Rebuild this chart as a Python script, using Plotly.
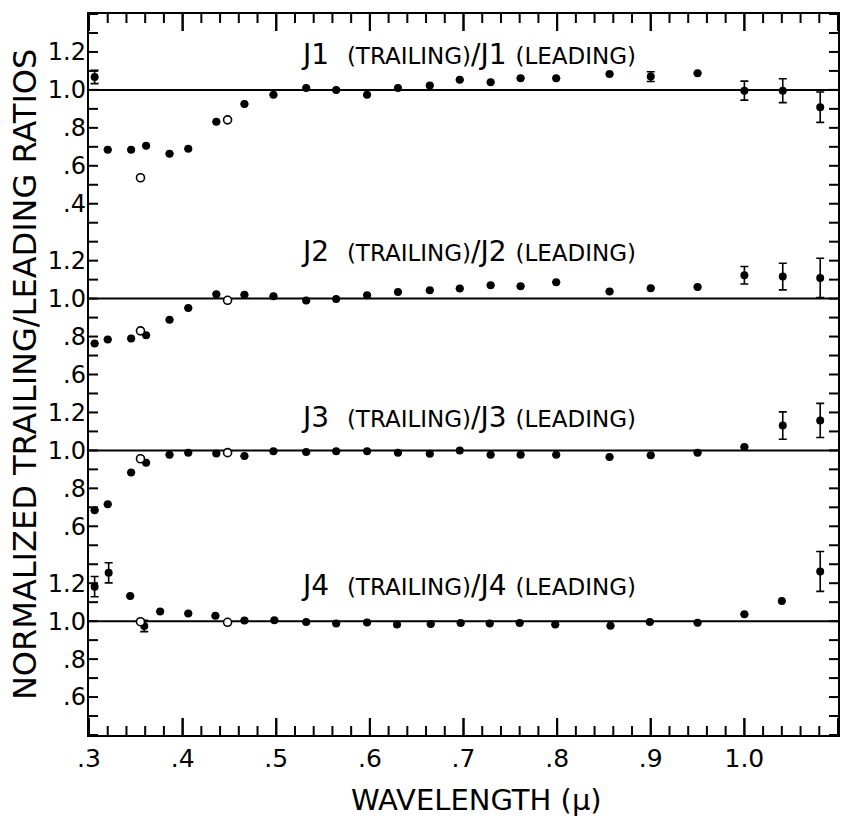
import plotly.graph_objects as go

# ---------------- data ----------------
WL = [0.306, 0.320, 0.345, 0.361, 0.386, 0.406, 0.436, 0.466, 0.497, 0.532, 0.564, 0.597,
      0.630, 0.664, 0.696, 0.729, 0.761, 0.799, 0.856, 0.900, 0.950, 1.000, 1.041, 1.081]
WL_J4 = [0.306, 0.321, 0.344, 0.359, 0.376, 0.406, 0.435, 0.466, 0.498, 0.532, 0.564, 0.597,
         0.629, 0.665, 0.697, 0.728, 0.760, 0.798, 0.857, 0.899, 0.950, 1.000, 1.040, 1.081]
WL_OPEN = [0.355, 0.448]

J1 = [1.068, 0.685, 0.685, 0.705, 0.664, 0.690, 0.832, 0.926, 0.974, 1.010, 1.000, 0.974,
      1.010, 1.023, 1.053, 1.040, 1.061, 1.061, 1.084, 1.070, 1.088, 0.996, 0.996, 0.909]
J1_ERR = [0.035, None, None, None, None, None, None, None, None, None, None, None,
          None, None, None, None, None, None, None, 0.026, None, 0.050, 0.063, 0.080]
J1_OPEN = [0.537, 0.842]

J2 = [0.763, 0.785, 0.790, 0.807, 0.888, 0.950, 1.023, 1.020, 1.012, 0.990, 0.998, 1.018,
      1.035, 1.044, 1.053, 1.070, 1.065, 1.086, 1.037, 1.055, 1.061, 1.123, 1.116, 1.109]
J2_ERR = [None, None, None, None, None, None, None, None, None, None, None, None,
          None, None, None, None, None, None, None, None, None, 0.046, 0.070, 0.104]
J2_OPEN = [0.830, 0.991]

J3 = [0.684, 0.716, 0.883, 0.935, 0.977, 0.988, 0.983, 0.970, 0.995, 0.991, 0.995, 0.996,
      0.987, 0.982, 1.000, 0.977, 0.977, 0.977, 0.965, 0.974, 0.988, 1.018, 1.131, 1.158]
J3_ERR = [None, None, None, None, None, None, None, None, None, None, None, None,
          None, None, None, None, None, None, None, None, None, None, 0.072, 0.090]
J3_OPEN = [0.956, 0.988]

J4 = [1.182, 1.255, 1.132, 0.975, 1.051, 1.041, 1.028, 1.004, 1.005, 0.995, 0.988, 0.993,
      0.983, 0.985, 0.990, 0.988, 0.990, 0.982, 0.976, 0.996, 0.992, 1.036, 1.106, 1.262]
J4_ERR = [0.053, 0.053, None, 0.030, None, None, None, None, None, None, None, None,
          None, None, None, None, None, None, None, None, None, None, None, 0.105]
J4_OPEN = [0.997, 0.994]

PANEL_NAMES = ["J1", "J2", "J3", "J4"]
PANEL_LABELS = [[1.2, 1.0, 0.8, 0.6, 0.4], [1.2, 1.0, 0.8, 0.6], [1.2, 1.0, 0.8, 0.6], [1.2, 1.0, 0.8, 0.6]]
X_TICKS = [0.3, 0.4, 0.5, 0.6, 0.7, 0.8, 0.9, 1.0, 1.1]
X_TICKTEXT = [".3", ".4", ".5", ".6", ".7", ".8", ".9", "1.0", "1.1"]

# ---------------- layout constants ----------------
OFFSETS = [0.0, -1.1, -1.9, -2.8]      # vertical shift of each stacked panel
Y_MIN, Y_MAX = -2.4, 1.4
X_MIN, X_MAX = 0.3, 1.1
FONT = "DejaVu Sans"

panels = [
    (WL, J1, J1_ERR, J1_OPEN),
    (WL, J2, J2_ERR, J2_OPEN),
    (WL, J3, J3_ERR, J3_OPEN),
    (WL_J4, J4, J4_ERR, J4_OPEN),
]

fig = go.Figure()
shapes = []
for (wl, vals, err, opn), off in zip(panels, OFFSETS):
    fig.add_trace(go.Scatter(
        x=wl, y=[v + off for v in vals], mode="markers",
        marker=dict(color="black", size=8, line=dict(width=0)),
        error_y=dict(type="data", array=err, visible=True, color="black",
                     thickness=1.6, width=4),
        showlegend=False, hoverinfo="skip"))
    fig.add_trace(go.Scatter(
        x=WL_OPEN, y=[v + off for v in opn], mode="markers",
        marker=dict(color="white", size=8, line=dict(width=1.6, color="black")),
        showlegend=False, hoverinfo="skip"))
    shapes.append(dict(type="line", xref="paper", x0=0, x1=1, yref="y",
                       y0=1.0 + off, y1=1.0 + off, line=dict(color="black", width=2),
                       layer="below"))

# tick positions
y_tickvals = [round(Y_MIN + 0.1 * i, 2) for i in range(int(round((Y_MAX - Y_MIN) / 0.1)) + 1)]
x_minor = [round(X_MIN + 0.02 * i, 2) for i in range(int(round((X_MAX - X_MIN) / 0.02)) + 1)]

# inward tick marks as pixel-sized line shapes anchored on the frame
TICK_LINE = dict(color="black", width=2)
for xv in x_minor + X_TICKS:
    ln = 17 if xv in X_TICKS else 9
    for anchor, sgn in ((Y_MIN, 1), (Y_MAX, -1)):
        shapes.append(dict(type="line", xref="x", x0=xv, x1=xv, yref="y",
                           ysizemode="pixel", yanchor=anchor, y0=0, y1=sgn * ln,
                           line=TICK_LINE))
for yv in y_tickvals:
    for anchor, sgn in ((X_MIN, 1), (X_MAX, -1)):
        shapes.append(dict(type="line", yref="y", y0=yv, y1=yv, xref="x",
                           xsizemode="pixel", xanchor=anchor, x0=0, x1=sgn * 9,
                           line=TICK_LINE))

# y tick labels: repeated panel labels
lab = {}
for labels, off in zip(PANEL_LABELS, OFFSETS):
    for v in labels:
        txt = ("%.1f" % v)
        if txt.startswith("0"):
            txt = txt[1:]
        lab[round(v + off, 2)] = txt
ticktext = [lab.get(t, "") for t in y_tickvals]

# panel titles
TITLE_Y = [1.185, 0.149, -0.729, -1.612]
annotations = []
for name, ty in zip(PANEL_NAMES, TITLE_Y):
    annotations.append(dict(
        x=0.507, xref="paper", y=ty, yref="y", xanchor="center", yanchor="middle",
        showarrow=False,
        text=(f"{name}  <span style='font-size:23px'>(TRAILING)</span>/{name} "
              f"<span style='font-size:23px'>(LEADING)</span>"),
        font=dict(family=FONT, size=28, color="black")))

annotations.append(dict(
    x=-0.086, xref="paper", y=0.5, yref="paper", xanchor="center", yanchor="middle",
    textangle=-90, showarrow=False, text="NORMALIZED TRAILING/LEADING RATIOS",
    font=dict(family=FONT, size=32, color="black")))
annotations.append(dict(
    x=0.517, xref="paper", y=-0.09, yref="paper", xanchor="center", yanchor="middle",
    showarrow=False, text="WAVELENGTH (\u03bc)",
    font=dict(family=FONT, size=29, color="black")))

fig.update_layout(
    width=852, height=822,
    margin=dict(l=89, r=13, t=12, b=87),
    paper_bgcolor="white", plot_bgcolor="white",
    shapes=shapes, annotations=annotations, showlegend=False,
    font=dict(family=FONT, color="black"),
    xaxis=dict(range=[X_MIN, X_MAX], tickmode="array", tickvals=X_TICKS, ticktext=X_TICKTEXT,
               ticks="", showline=True, linecolor="black", linewidth=2.4, mirror=True,
               showgrid=False, zeroline=False,
               tickfont=dict(family=FONT, size=25, color="black")),
    yaxis=dict(range=[Y_MIN, Y_MAX], tickmode="array", tickvals=y_tickvals, ticktext=ticktext,
               ticks="", showline=True, linecolor="black", linewidth=2.4, mirror=True,
               showgrid=False, zeroline=False, ticklabelstandoff=-4,
               tickfont=dict(family=FONT, size=24, color="black")),
)

fig.write_html("out.html")
